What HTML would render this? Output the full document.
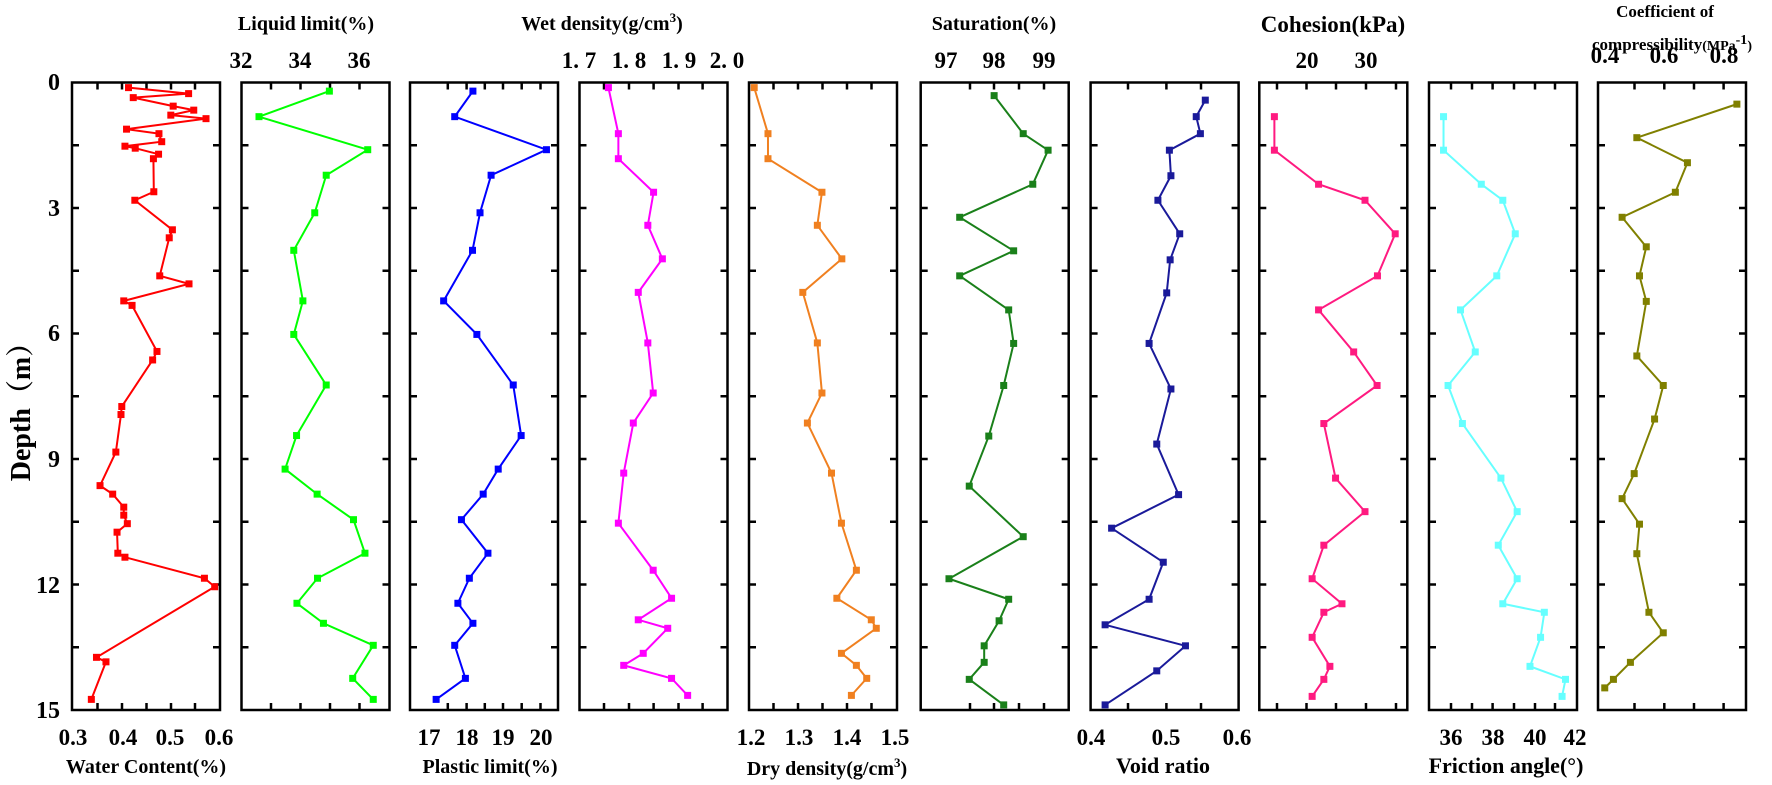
<!DOCTYPE html>
<html><head><meta charset="utf-8"><style>
html,body{margin:0;padding:0;background:#fff;}
svg{display:block;}
text{font-family:"Liberation Serif",serif;font-weight:bold;fill:#000;}
</style></head><body>
<svg id="s" width="1772" height="785" xmlns="http://www.w3.org/2000/svg">
<g font-size="24" text-anchor="end">
<text x="60" y="90">0</text><text x="60" y="216">3</text><text x="60" y="341">6</text>
<text x="60" y="467">9</text><text x="60" y="593">12</text><text x="60" y="718">15</text>
</g>
<text transform="translate(30,405) rotate(-90)" font-size="28" text-anchor="middle" style="font-family:'Liberation Serif','Noto Serif CJK SC',serif">Depth（m）</text>
<g font-size="20" text-anchor="middle">
<text x="306" y="30">Liquid limit(%)</text>
<text x="602" y="30">Wet density(g/cm<tspan font-size="13" dy="-8">3</tspan><tspan dy="8">)</tspan></text>
<text x="994" y="30">Saturation(%)</text>
<text x="1333" y="32" font-size="23">Cohesion(kPa)</text>
<text x="1665" y="17" font-size="17">Coefficient of</text>
<text x="1672" y="50" font-size="17">compressibility<tspan font-size="14">(MPa</tspan><tspan font-size="14" dy="-6">-1</tspan><tspan font-size="14" dy="6">)</tspan></text>
<text x="146" y="773">Water Content(%)</text>
<text x="490" y="773">Plastic limit(%)</text>
<text x="827" y="775">Dry density(g/cm<tspan font-size="13" dy="-8">3</tspan><tspan dy="8">)</tspan></text>
<text x="1163" y="773" font-size="22">Void ratio</text>
<text x="1506" y="773" font-size="22">Friction angle(°)</text>
</g>
<g font-size="23" text-anchor="middle">
<text x="241" y="68">32</text><text x="300" y="68">34</text><text x="359" y="68">36</text>
<text x="579" y="68">1. 7</text><text x="629" y="68">1. 8</text><text x="679" y="68">1. 9</text><text x="727" y="68">2. 0</text>
<text x="946" y="68">97</text><text x="994" y="68">98</text><text x="1044" y="68">99</text>
<text x="1307" y="68">20</text><text x="1366" y="68">30</text>
<text x="1605" y="50" dy="13">0.4</text><text x="1664" y="63">0.6</text><text x="1724" y="63">0.8</text>
<text x="73" y="745">0.3</text><text x="123" y="745">0.4</text><text x="170" y="745">0.5</text><text x="219" y="745">0.6</text>
<text x="429" y="745">17</text><text x="467" y="745">18</text><text x="503" y="745">19</text><text x="541" y="745">20</text>
<text x="751" y="745">1.2</text><text x="799" y="745">1.3</text><text x="847" y="745">1.4</text><text x="895" y="745">1.5</text>
<text x="1091" y="745">0.4</text><text x="1166" y="745">0.5</text><text x="1237" y="745">0.6</text>
<text x="1451" y="745">36</text><text x="1493" y="745">38</text><text x="1535" y="745">40</text><text x="1575" y="745">42</text>
</g>
<g id="g"></g>
</svg>
<script>
var NS="http://www.w3.org/2000/svg",G=document.getElementById('g');
function el(n,a){var e=document.createElementNS(NS,n);for(var k in a)e.setAttribute(k,a[k]);G.appendChild(e);return e;}
var lefts=[72,241.5,410,579.5,749,920.7,1090.6,1259.3,1429,1598],W=148,T=82.5,B=710;
var xt=[[97.5,122,146.5,171,195],[271,300.5,330,359.5],[447.8,466.6,484.8,503,521.7,540.5],[604,629,653.6,678.5,702.6],[773.5,798,822.5,847,871.5],[970,994,1019,1044],[1128,1166.4,1201],[1277,1306.5,1336,1366,1396],[1451,1472,1492.6,1514,1535,1555],[1634.5,1664.3,1694,1723.6]];
lefts.forEach(function(l,i){
 for(var d=1;d<10;d++){var y=T+d*(B-T)/10;el('line',{x1:l,x2:l+7,y1:y,y2:y,stroke:'#000','stroke-width':2.5});el('line',{x1:l+W-7,x2:l+W,y1:y,y2:y,stroke:'#000','stroke-width':2.5});}
 xt[i].forEach(function(x){el('line',{x1:x,x2:x,y1:T,y2:T+7,stroke:'#000','stroke-width':2.5});el('line',{x1:x,x2:x,y1:B-7,y2:B,stroke:'#000','stroke-width':2.5});});
 el('rect',{x:l,y:T,width:W,height:B-T,fill:'none',stroke:'#000','stroke-width':2.5});
});
var Z={1:[0,1568/620],2:[600,1568/600],3:[1180,1568/592]},SY=1568/785;
function ser(z,pts,col){var o=Z[z];var p=[];for(var i=0;i<pts.length;i+=2){var q=pts[i];var zz=o;if(Array.isArray(q)){zz=Z[q[0]];q=q[1];}p.push([q/zz[1]+zz[0],pts[i+1]/SY]);}
 el('polyline',{points:p.map(function(a){return a.join(',')}).join(' '),fill:'none',stroke:col,'stroke-width':2});
 p.forEach(function(a){el('rect',{x:a[0]-3.5,y:a[1]-3.5,width:7,height:7,fill:col});});}
ser(1,[325,175,477,187,337,195,438,212,490,220,432,230,521,237,320,258,402,267,409,283,316,292,342,296,401,308,388,317,389,383,341,400,436,459,428,475,404,551,478,567,313,601,334,610,397,702,386,719,308,812,306,828,293,903,253,970,285,987,313,1013,313,1029,322,1046,296,1063,298,1105,316,1113,517,1155,543,1172,244,1313,268,1322,231,1397],'#ff0000');
ser(1,[833,182,655,233,930,299,825,350,796,425,743,500,766,601,743,668,825,769,750,870,721,937,802,987,894,1038,923,1105,803,1155,751,1205,818,1245,944,1289,892,1355,944,1397],'#00ff00');
ser(1,[1196,182,1150,233,1382,299,1242,350,1214,425,1195,500,1122,601,1206,668,1298,769,1318,870,1260,937,1222,987,1167,1038,1234,1105,1187,1155,1158,1205,1196,1245,1150,1289,1177,1355,1103,1397],'#0000ff');
ser(2,[22,175,48,267,48,317,140,384,125,450,163,517,100,584,125,685,139,785,87,845,62,945,48,1045,139,1139,187,1195,100,1238,177,1255,113,1305,62,1329,187,1355,229,1389],'#ff00ff');
ser(2,[403,175,439,267,439,317,580,384,568,450,632,517,530,584,568,685,580,785,542,845,605,945,631,1045,670,1139,619,1195,709,1238,722,1255,631,1305,670,1329,697,1355,657,1389],'#f08020');
ser(2,[1030,191,1106,267,1171,300,1131,368,940,434,1081,501,940,551,1068,619,1081,686,1055,770,1016,871,965,971,1106,1072,912,1156,1068,1197,1043,1240,1004,1290,1004,1323,965,1357,1055,1408],'#1a801a');
ser(2,[[3,67],200,[3,43],233,[3,54],267,1488,300,1492,351,1458,400,1515,467,1490,519,1481,585,1435,686,1492,777,1455,887,1512,988,1337,1055,1472,1123,1435,1197,1320,1248,1530,1290,1455,1340,1320,1408],'#1a1a9a');
ser(3,[250,233,250,300,367,368,490,400,570,467,523,551,367,619,460,703,522,770,381,846,412,955,490,1022,381,1089,350,1156,429,1206,381,1223,350,1273,397,1331,381,1357,350,1391],'#ff1a80');
ser(3,[698,233,698,300,798,368,855,400,888,467,839,551,743,619,782,703,710,770,748,846,850,955,893,1022,843,1089,893,1156,855,1206,965,1223,955,1273,927,1331,1021,1357,1012,1391],'#66ffff');
ser(3,[1475,208,1210,275,1344,325,1312,384,1171,434,1235,493,1217,551,1235,602,1210,711,1280,770,1257,837,1203,946,1171,996,1217,1047,1210,1106,1242,1223,1280,1264,1193,1323,1148,1357,1125,1374],'#808000');
</script>
</body></html>
